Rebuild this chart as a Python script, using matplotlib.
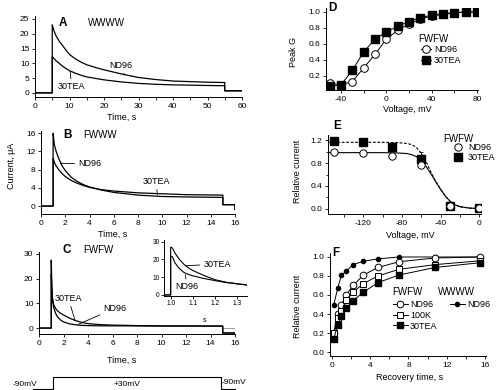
import numpy as np
import matplotlib.pyplot as plt

plt.rcParams['font.family'] = ['Liberation Sans', 'DejaVu Sans']
plt.rcParams['axes.unicode_minus'] = False
plt.rcParams['font.size'] = 6
plt.rcParams['axes.linewidth'] = 0.7
plt.rcParams['xtick.major.size'] = 2.5
plt.rcParams['ytick.major.size'] = 2.5
plt.rcParams['xtick.minor.size'] = 1.8
plt.rcParams['ytick.minor.size'] = 1.8
plt.rcParams['xtick.major.width'] = 0.6
plt.rcParams['ytick.major.width'] = 0.6
plt.rcParams['xtick.major.pad'] = 1.5
plt.rcParams['ytick.major.pad'] = 1.5
plt.rcParams['xtick.labelsize'] = 6
plt.rcParams['ytick.labelsize'] = 6

# ---- panel A : WWWW currents ----
a_t_nd96 = [0, 5, 5, 5.25, 5.5, 6, 6.5, 7, 8, 9, 10, 11, 12, 13.5, 15, 17.5, 20, 25, 30, 35, 40, 45, 50, 55, 55, 60]
a_i_nd96 = [0, 0, 23, 22, 21, 19.5, 18.5, 17.5, 16, 14.4, 13, 12.1, 11.3, 10.3, 9.5, 8.6, 7.8, 6.4, 5.2, 4.5, 4.0, 3.8, 3.6, 3.5, 0.7, 0.7]
a_t_tea = [0, 5, 5, 5.5, 6, 7, 8, 9, 10, 11, 12, 13.5, 15, 17.5, 20, 25, 30, 35, 40, 45, 50, 55, 55, 60]
a_i_tea = [0, 0, 12.3, 11.6, 11, 10, 9, 8.2, 7.5, 7.0, 6.5, 5.9, 5.4, 4.9, 4.4, 3.7, 3.2, 2.9, 2.7, 2.6, 2.5, 2.4, 0.7, 0.7]

# ---- panel B : FWWW currents ----
b_t = [0, 1, 1, 1.1, 1.25, 1.5, 1.75, 2, 2.5, 3, 3.5, 4, 5, 6, 8, 10, 12, 15, 15, 16, 16]
b_i_nd96 = [0, 0, 16, 13.5, 12, 10.2, 8.8, 7.8, 6.3, 5.4, 4.7, 4.2, 3.5, 3.0, 2.4, 2.1, 2.0, 1.9, 0.3, 0.3, -0.8]
b_i_tea = [0, 0, 10.5, 9.6, 8.8, 7.9, 7.1, 6.5, 5.6, 5.0, 4.5, 4.1, 3.6, 3.3, 2.9, 2.7, 2.5, 2.4, 0.3, 0.3, -0.8]

# ---- panel C : FWFW currents ----
c_t = [0, 1, 1, 1.05, 1.1, 1.2, 1.35, 1.5, 1.75, 2, 2.5, 3, 3.5, 4, 5, 6, 8, 10, 12, 15, 15, 16]
c_i_tea = [0, 0, 27.5, 17, 12.5, 9.5, 8, 7.0, 6.0, 5.3, 4.0, 3.0, 2.3, 1.8, 1.4, 1.2, 1.0, 0.9, 0.9, 0.8, -2, -2]
c_i_nd96 = [0, 0, 22, 15, 11, 8.3, 6.0, 4.6, 3.3, 2.5, 1.7, 1.3, 1.1, 1.0, 0.9, 0.9, 0.9, 0.8, 0.8, 0.8, -2, -2]
c_zero_t = [15, 16]
c_zero_i = [0, 0]

# inset of C
ci_t = [0.97, 1.0, 1.0, 1.008, 1.02, 1.04, 1.06, 1.08, 1.1, 1.15, 1.2, 1.25, 1.3, 1.345]
ci_tea = [0, 0, 27, 26.5, 23.5, 20, 17.3, 15.3, 13.8, 11, 8.6, 7.2, 6.3, 5.6]
ci_nd96 = [0, 0, 22, 21.5, 18, 14.8, 12.7, 11.6, 10.8, 9.3, 8.1, 7.0, 6.3, 5.6]

# voltage protocol
prot_t = [-0.5, 1.15, 1.15, 14.85, 14.85, 16]
prot_v = [-90, -90, 30, 30, -90, -90]

# ---- panel D : peak conductance ----
d_v = [-50, -40, -30, -20, -10, 0, 10, 20, 30, 40, 50, 60, 70, 80]
d_nd96 = [0.11, 0.09, 0.13, 0.30, 0.47, 0.66, 0.77, 0.85, 0.91, 0.95, 0.97, 0.99, 1.0, 1.0]
d_tea = [0.07, 0.09, 0.27, 0.50, 0.66, 0.75, 0.82, 0.88, 0.93, 0.96, 0.98, 0.99, 1.0, 1.0]

# ---- panel E : steady-state inactivation ----
e_v = [-150, -120, -90, -60, -30, 0]
e_nd96 = [0.99, 0.98, 0.92, 0.77, 0.06, 0.02]
e_tea = [1.19, 1.16, 1.08, 0.87, 0.06, 0.02]
e_tea_err = [0.07, 0.06, 0.02, 0.12, 0.01, 0.01]
e_fit_v = [-156, -100, -85, -75, -70, -65, -60, -55, -50, -45, -40, -35, -30, -25, -20, -10, 0]
e_fit_nd96 = [0.98, 0.98, 0.975, 0.965, 0.945, 0.91, 0.84, 0.74, 0.61, 0.47, 0.34, 0.22, 0.13, 0.07, 0.04, 0.015, 0.01]
e_fit_tea = [1.16, 1.16, 1.155, 1.14, 1.12, 1.07, 0.97, 0.82, 0.64, 0.48, 0.34, 0.22, 0.13, 0.07, 0.04, 0.015, 0.01]

# ---- panel F : recovery ----
f_t = [0.2, 0.6, 1.0, 1.5, 2.2, 3.3, 4.8, 7.0, 10.8, 15.5]
f_w_nd96 = [0.5, 0.67, 0.81, 0.85, 0.92, 0.955, 0.98, 1.0, 1.0, 1.0]
f_nd96 = [0.2, 0.4, 0.5, 0.6, 0.7, 0.81, 0.89, 0.95, 0.99, 1.0]
f_100k = [0.2, 0.36, 0.43, 0.55, 0.63, 0.72, 0.80, 0.87, 0.92, 0.96]
f_tea = [0.14, 0.28, 0.38, 0.46, 0.54, 0.63, 0.73, 0.81, 0.89, 0.94]

W, H = 500, 390
fig = plt.figure(figsize=(5, 3.9), dpi=100)


def add_ax(left, top, right, bottom):
    ax = fig.add_axes([left / W, 1 - bottom / H, (right - left) / W, (bottom - top) / H])
    ax.spines['top'].set_visible(False)
    ax.spines['right'].set_visible(False)
    ax.patch.set_alpha(0)
    return ax


def ftext(x, y, s, **kw):
    kw.setdefault('va', 'center')
    fig.text(x / W, 1 - y / H, s, **kw)


def flegend(ax, handles, labels, x, y, **kw):
    return ax.legend(handles, labels, loc='upper left', bbox_to_anchor=(x / W, 1 - y / H),
                     bbox_transform=fig.transFigure, frameon=False, borderpad=0,
                     borderaxespad=0, fontsize=6.5, **kw)


lw = 0.9
note = dict(fontsize=6.5, ha='center', va='center',
            arrowprops=dict(arrowstyle='-', lw=0.6, color='k', shrinkA=0.5, shrinkB=0))

# A
ax = add_ax(35, 16, 242, 97)
ax.plot(a_t_nd96, a_i_nd96, color='k', lw=lw)
ax.plot(a_t_tea, a_i_tea, color='k', lw=lw)
ax.set_xlim(0, 60)
ax.set_ylim(-1.4, 26)
ax.set_xticks(range(0, 61, 10))
ax.set_xticks(range(5, 60, 10), minor=True)
ax.set_yticks(range(0, 26, 5))
ax.annotate('ND96', xy=(26, 6.1), xytext=(25, 9.2), **note)
ax.annotate('30TEA', xy=(10.2, 7.3), xytext=(10.6, 2.1), **note)

# B
ax = add_ax(41, 131, 235, 214)
ax.plot(b_t, b_i_nd96, color='k', lw=lw)
ax.plot(b_t, b_i_tea, color='k', lw=lw)
ax.set_xlim(0, 16)
ax.set_ylim(-1.75, 16.5)
ax.set_xticks(range(0, 17, 2))
ax.set_yticks(range(0, 17, 4))
ax.annotate('ND96', xy=(1.6, 9.4), xytext=(4.0, 9.3), **note)
ax.annotate('30TEA', xy=(9.6, 2.4), xytext=(9.5, 5.4), **note)

# C
ax = add_ax(39, 252, 235, 334)
ax.plot(c_zero_t, c_zero_i, color='0.6', lw=0.7)
ax.plot(c_t, c_i_tea, color='k', lw=lw)
ax.plot(c_t, c_i_nd96, color='k', lw=lw)
ax.set_xlim(0, 16)
ax.set_ylim(-2.4, 30.8)
ax.set_xticks(range(0, 17, 2))
ax.set_yticks(range(0, 31, 10))
ax.annotate('30TEA', xy=(2.95, 3.0), xytext=(2.4, 12), **note)
ax.annotate('ND96', xy=(3.2, 1.5), xytext=(6.2, 8), **note)

# inset
ax = add_ax(164, 240, 247, 296)
ax.plot(ci_t, ci_tea, color='k', lw=0.8)
ax.plot(ci_t, ci_nd96, color='k', lw=0.8)
ax.set_xlim(0.97, 1.345)
ax.set_ylim(-0.6, 31)
ax.set_xticks([1.0, 1.1, 1.2, 1.3])
ax.set_yticks([0, 10, 20, 30])
ax.tick_params(labelsize=4.8, length=2, pad=1)
ax.annotate('30TEA', xy=(1.066, 16.5), xytext=(1.21, 17.3), **note)
ax.annotate('ND96', xy=(1.066, 11.4), xytext=(1.075, 4.6), **note)

# voltage protocol
ax = add_ax(39, 374, 235, 392)
ax.axis('off')
ax.plot(prot_t, prot_v, color='k', lw=0.8, clip_on=False)
ax.set_xlim(0, 16)
ax.set_ylim(-115.7, 55.7)

# D
ax = add_ax(326, 8, 478, 90)
l1, = ax.plot(d_v, d_nd96, color='k', lw=0.7, marker='o', ms=5.5, mfc='white', mec='k', mew=0.7)
l2, = ax.plot(d_v, d_tea, color='k', lw=0.7, marker='s', ms=5.8, mfc='k', mec='k')
ax.set_xlim(-53.2, 81)
ax.set_ylim(0.025, 1.05)
ax.set_xticks([-40, 0, 40, 80])
ax.set_xticks([-20, 20, 60], minor=True)
ax.set_yticks([0.2, 0.4, 0.6, 0.8, 1.0])
ax.set_yticklabels(['0.2', '0.4', '0.6', '0.8', '1.0'])
flegend(ax, [l1, l2], ['ND96', '30TEA'], 421, 45, handlelength=1.1, handletextpad=0.35, labelspacing=0.25)

# E
ax = add_ax(328, 135, 481, 214)
ax.plot(e_fit_v, e_fit_tea, color='k', lw=0.8, ls=(0, (2.5, 1.5)))
ax.plot(e_fit_v, e_fit_nd96, color='k', lw=0.8)
ax.errorbar(e_v, e_tea, yerr=e_tea_err, fmt='none', ecolor='k', elinewidth=0.6, capsize=1.5, capthick=0.6)
h2, = ax.plot(e_v, e_tea, ls='none', marker='s', ms=5.5, mfc='k', mec='k', zorder=3)
h1, = ax.plot(e_v, e_nd96, ls='none', marker='o', ms=5.3, mfc='white', mec='k', mew=0.7, zorder=4)
ax.set_xlim(-156.5, 1.7)
ax.set_ylim(-0.087, 1.287)
ax.set_xticks([-120, -80, -40, 0])
ax.set_xticks([-140, -100, -60, -20], minor=True)
ax.set_yticks([0.0, 0.4, 0.8, 1.2])
ax.set_yticks([0.2, 0.6, 1.0], minor=True)
ax.set_yticklabels(['0.0', '0.4', '0.8', '1.2'])
flegend(ax, [h1, h2], ['ND96', '30TEA'], 453.5, 143, handlelength=1.0, handletextpad=0.6, labelspacing=0.15)

# F
ax = add_ax(330, 253, 486, 356)
g4, = ax.plot(f_t, f_w_nd96, color='k', lw=0.7, marker='o', ms=3, mfc='k', mec='k')
g1, = ax.plot(f_t, f_nd96, color='k', lw=0.7, marker='o', ms=4.8, mfc='white', mec='k', mew=0.7)
g2, = ax.plot(f_t, f_100k, color='k', lw=0.7, marker='s', ms=4.8, mfc='white', mec='k', mew=0.7)
g3, = ax.plot(f_t, f_tea, color='k', lw=0.7, marker='s', ms=4.8, mfc='k', mec='k')
ax.set_xlim(-0.2, 16.1)
ax.set_ylim(-0.042, 1.042)
ax.set_xticks([0, 4, 8, 12, 16])
ax.set_xticks([2, 6, 10, 14], minor=True)
ax.set_yticks([0.0, 0.2, 0.4, 0.6, 0.8, 1.0])
ax.set_yticklabels(['0.0', '0.2', '0.4', '0.6', '0.8', '1.0'])
leg = flegend(ax, [g1, g2, g3], ['ND96', '100K', '30TEA'], 393, 300,
              handlelength=1.65, handletextpad=0.25, labelspacing=0.2)
ax.add_artist(leg)
flegend(ax, [g4], ['ND96'], 450, 300, handlelength=1.65, handletextpad=0.25)

# panel letters and titles
for x, y, s in [(63, 23, 'A'), (67, 135, 'B'), (67, 250, 'C'), (332, 8, 'D'), (337, 126, 'E'), (336, 253, 'F')]:
    ftext(x, y, s, fontsize=8.5, fontweight='bold', ha='center')
for x, y, s in [(88, 23, 'WWWW'), (83, 135, 'FWWW'), (83, 250, 'FWFW'),
                (418, 39, 'FWFW'), (443, 139, 'FWFW'), (392, 292, 'FWFW'), (438, 292, 'WWWW')]:
    ftext(x, y, s, fontsize=7, ha='left')

# axis labels
ftext(122, 117, 'Time, s', fontsize=6.5, ha='center')
ftext(113, 234, 'Time, s', fontsize=6.5, ha='center')
ftext(122, 360, 'Time, s', fontsize=6.5, ha='center')
ftext(205, 321, 's', fontsize=5, ha='center')
ftext(12, 166, 'Current, μA', fontsize=6.5, ha='center', rotation=90)
ftext(294, 52, 'Peak G', fontsize=6.5, ha='center', rotation=90)
ftext(407, 110, 'Voltage, mV', fontsize=6.5, ha='center')
ftext(297, 171, 'Relative current', fontsize=6.5, ha='center', rotation=90)
ftext(410, 235, 'Voltage, mV', fontsize=6.5, ha='center')
ftext(297, 306, 'Relative current', fontsize=6.5, ha='center', rotation=90)
ftext(410, 377, 'Recovery time, s', fontsize=6.5, ha='center')

# protocol labels
ftext(13, 384, '-90mV', fontsize=6, ha='left')
ftext(127, 385, '+30mV', fontsize=6, ha='center')
ftext(222, 382, '-90mV', fontsize=6, ha='left')

fig.savefig('out.png', dpi=100)
